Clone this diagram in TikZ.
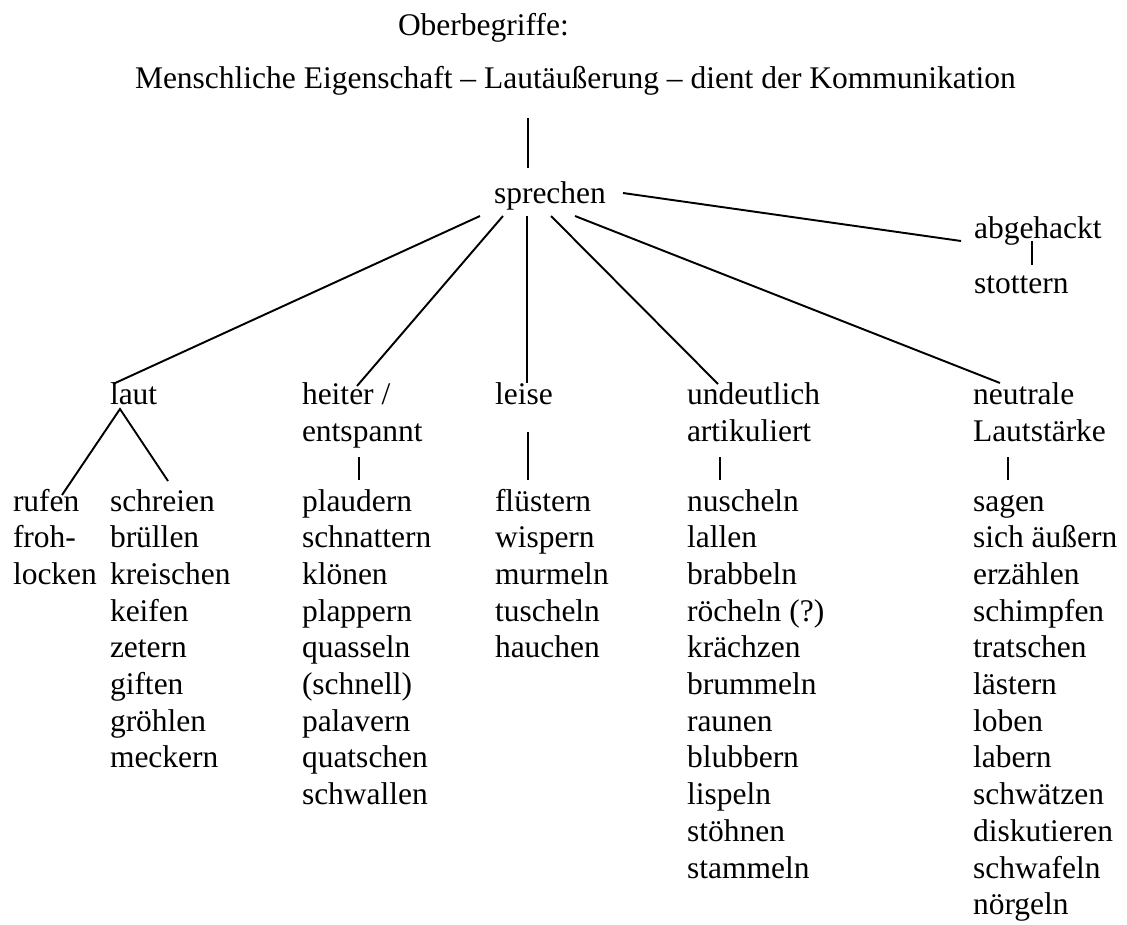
\documentclass[tikz,border=0pt]{standalone}
\usepackage{fontspec}
\setmainfont{Liberation Serif}
\begin{document}
\begin{tikzpicture}[x=0.75pt,y=-0.75pt,
  lbl/.style={anchor=base west,inner sep=0pt,outer sep=0pt,font=\fontsize{23.625}{27.5}\selectfont},
  conn/.style={line width=1.45pt,line cap=butt}]
\useasboundingbox (0,0) rectangle (1127,924);
% header
\node[lbl] (ober) at (398,36) {Oberbegriffe:};
\node[lbl] (hdr) at (135,89) {Menschliche Eigenschaft – Lautäußerung – dient der Kommunikation};
\node[lbl] (sprechen) at (494,203) {sprechen};
\node[lbl] (abgehackt) at (974,238) {abgehackt};
\node[lbl] (stottern) at (974,293) {stottern};
% categories
\node[lbl] (laut) at (110,404) {laut};
\node[lbl] (heiter) at (302,404) {heiter /};
\node[lbl] (entspannt) at (302,441) {entspannt};
\node[lbl] (leise) at (495,404) {leise};
\node[lbl] (undeutlich) at (687,404) {undeutlich};
\node[lbl] (artikuliert) at (687,441) {artikuliert};
\node[lbl] (neutrale) at (973,404) {neutrale};
\node[lbl] (lautstaerke) at (973,441) {Lautstärke};
% word lists
\foreach \w [count=\i] in {rufen,froh-,locken}
  \node[lbl] (rufen-\i) at (13,{511+(\i-1)*36.7}) {\w};
\foreach \w [count=\i] in {schreien,brüllen,kreischen,keifen,zetern,giften,gröhlen,meckern}
  \node[lbl] (schreien-\i) at (110,{511+(\i-1)*36.7}) {\w};
\foreach \w [count=\i] in {plaudern,schnattern,klönen,plappern,quasseln,{(schnell)},palavern,quatschen,schwallen}
  \node[lbl] (heiter-\i) at (302,{511+(\i-1)*36.7}) {\w};
\foreach \w [count=\i] in {flüstern,wispern,murmeln,tuscheln,hauchen}
  \node[lbl] (leise-\i) at (495,{511+(\i-1)*36.7}) {\w};
\foreach \w [count=\i] in {nuscheln,lallen,brabbeln,{röcheln (?)},krächzen,brummeln,raunen,blubbern,lispeln,stöhnen,stammeln}
  \node[lbl] (undeutlich-\i) at (687,{511+(\i-1)*36.7}) {\w};
\foreach \w [count=\i] in {sagen,sich äußern,erzählen,schimpfen,tratschen,lästern,loben,labern,schwätzen,diskutieren,schwafeln,nörgeln}
  \node[lbl] (neutrale-\i) at (973,{511+(\i-1)*36.7}) {\w};
% connector end points
\coordinate (hdr-b) at (528,118);
\coordinate (sp-t) at (528,168);
\coordinate (sp-r) at (623,193);
\coordinate (ab-l) at (961,241);
\coordinate (ab-b) at (1032,241);
\coordinate (st-t) at (1032,265);
\coordinate (sp-1) at (480,216);
\coordinate (sp-2) at (503,216);
\coordinate (sp-3) at (527,216);
\coordinate (sp-4) at (551,216);
\coordinate (sp-5) at (575,216);
\coordinate (laut-t) at (113,384);
\coordinate (heiter-t) at (357,386);
\coordinate (leise-t) at (527,383);
\coordinate (undeutlich-t) at (718,384);
\coordinate (neutrale-t) at (1000,383);
\coordinate (laut-b) at (120,409);
\coordinate (rufen-t) at (62,495);
\coordinate (schreien-t) at (168,481);
\coordinate (heiter-b) at (359,457);
\coordinate (heiter-l) at (359,480);
\coordinate (leise-b) at (528,432);
\coordinate (leise-l) at (528,480);
\coordinate (undeutlich-b) at (720,457);
\coordinate (undeutlich-l) at (720,480);
\coordinate (neutrale-b) at (1008,457);
\coordinate (neutrale-l) at (1008,480);
% connectors
\draw[conn] (hdr-b) -- (sp-t);
\draw[conn] (sp-r) -- (ab-l);
\draw[conn] (ab-b) -- (st-t);
\draw[conn] (sp-1) -- (laut-t);
\draw[conn] (sp-2) -- (heiter-t);
\draw[conn] (sp-3) -- (leise-t);
\draw[conn] (sp-4) -- (undeutlich-t);
\draw[conn] (sp-5) -- (neutrale-t);
\draw[conn] (rufen-t) -- (laut-b) -- (schreien-t);
\draw[conn] (heiter-b) -- (heiter-l);
\draw[conn] (leise-b) -- (leise-l);
\draw[conn] (undeutlich-b) -- (undeutlich-l);
\draw[conn] (neutrale-b) -- (neutrale-l);
\end{tikzpicture}
\end{document}
